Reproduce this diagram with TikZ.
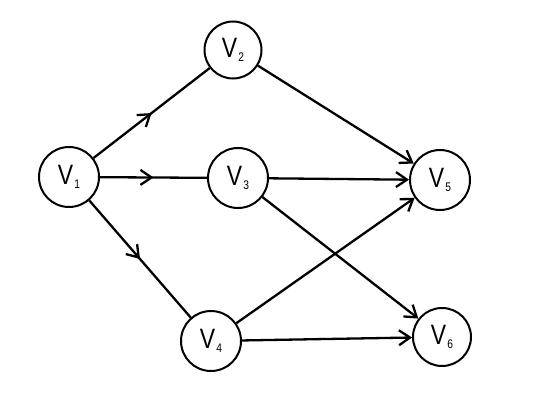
\documentclass[tikz,border=0pt]{standalone}
\usepackage{fontspec}
\setmainfont{Liberation Sans}
\usetikzlibrary{arrows.meta,decorations.markings}
\newcommand{\vlab}[1]{\scalebox{0.82}[1]{V\kern1.5pt\raisebox{-4pt}{\fontsize{12.5}{12.5}\selectfont #1}}}
\begin{document}
\begin{tikzpicture}[x=1pt,y=-1pt,
  vert/.style={draw,circle,line width=2pt,inner sep=0pt,minimum size=60pt,font=\fontsize{28}{28}\selectfont},
  edge/.style={line width=2.3pt},
  tipend/.style={edge,-{Straight Barb[length=11pt,width=15pt,line width=2.3pt]}},
  midarrow/.style={edge,decoration={markings,mark=at position 0.5 with {\arrow{Straight Barb[length=11pt,width=15pt,line width=2.3pt]}}},postaction={decorate}}]
\useasboundingbox (0,0) rectangle (538,404);
\node[vert] (v1) at (69,177) {\vlab{1}};
\node[vert,minimum size=57pt] (v2) at (233,50) {\vlab{2}};
\node[vert] (v3) at (238,178) {\vlab{3}};
\node[vert] (v4) at (211,341) {\vlab{4}};
\node[vert] (v5) at (440,180) {\vlab{5}};
\node[vert,minimum size=58pt] (v6) at (442,337) {\vlab{6}};
\draw[midarrow] (v1) -- (v2);
\draw[midarrow] (v1) -- (v3);
\draw[midarrow] (v1) -- (v4);
\draw[tipend] (v2) -- (v5);
\draw[tipend] (v3) -- (v5);
\draw[tipend] (v3) -- (v6);
\draw[tipend] (v4) -- (v5);
\draw[tipend] (v4) -- (v6);
\end{tikzpicture}
\end{document}
